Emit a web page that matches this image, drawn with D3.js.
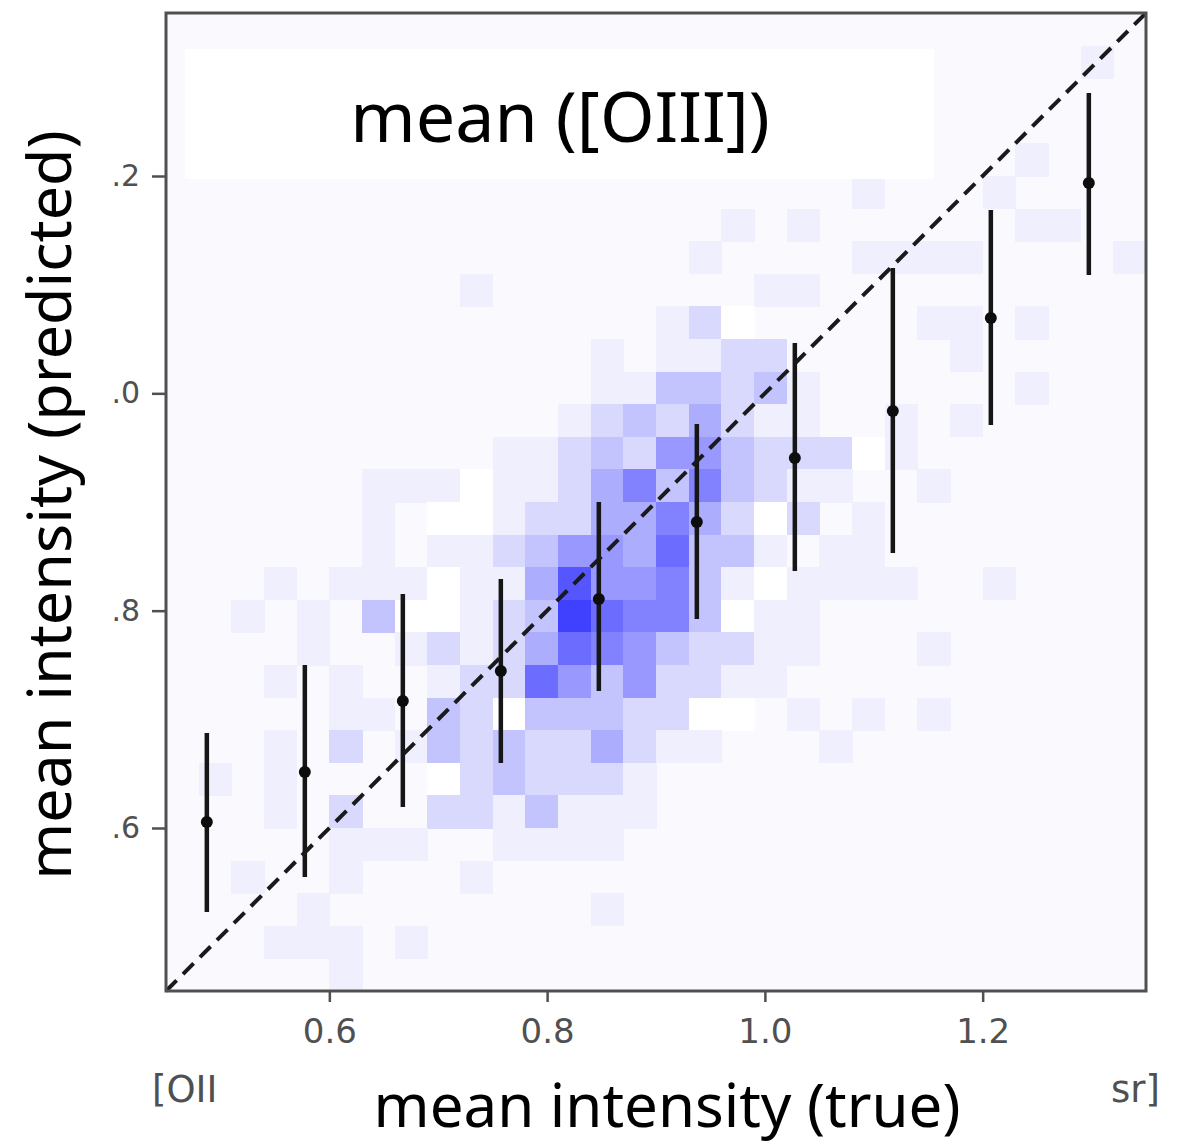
<!DOCTYPE html>
<html>
<head>
<meta charset="utf-8">
<script src="https://cdn.jsdelivr.net/npm/d3@7"></script>
<style>
  body { margin: 0; background: #fff; }
  svg { display: block; }
</style>
</head>
<body>
<div class="chart"></div>
<script>
const binSize = 0.03
const xDomain = [0.45, 1.35]
const yDomain = [0.45, 1.35]
const xTicks = [0.6, 0.8, 1.0, 1.2]
const yTicks = [0.6, 0.8, 1.0, 1.2]

// 2d histogram, one string per row from the top (y = 1.35) down,
// one char per bin from x = 0.45 ; '0' empty, 'w' white, 1..9 darker blue
const density = [
    "0000000000 0000000000 0000000000",
    "0000000000 0000000000 0000000010",
    "0000000000 0000000000 0000000000",
    "0000000000 0000000000 0000000000",
    "0000000000 0000000000 0000001000",
    "0000000000 0000000000 0100010000",
    "0000000000 0000000101 0000001100",
    "0000000000 0000001000 0111100001",
    "0000000001 0000000011 0000000000",
    "0000000000 0000012w00 0001101000",
    "0000000000 0001011220 0000100000",
    "0000000000 0001133231 0000001000",
    "0000000000 0012324211 0010100000",
    "0000000000 1123255322 2w10000000",
    "000000111w 1124636321 1001000000",
    "00000010ww 12244642w2 0100000000",
    "0000001011 2355473310 1100000000",
    "00010111w1 14855631w1 1110010000",
    "0010103ww1 2397663w11 0000000000",
    "0000100121 2476532211 0001000000",
    "0001010012 2753522110 0000000000",
    "0000011032 w33322ww01 0101000000",
    "0001020132 3224211000 1000000000",
    "01010000w2 3222100000 0000000000",
    "0001020022 1311100000 0000000000",
    "0000011100 1111000000 0000000000",
    "0010010001 0000000000 0000000000",
    "0000100000 0001000000 0000000000",
    "0001110100 0000000000 0000000000",
    "0000010000 0000000000 0000000000"
]

// binned means of the prediction with their spread
const binTrue = [0.4875, 0.5775, 0.6675, 0.7575, 0.8475, 0.9375, 1.0275, 1.1175, 1.2075, 1.2975]
const meanPred = [0.6055, 0.6515, 0.7169, 0.7445, 0.8107, 0.8816, 0.9405, 0.9837, 1.0693, 1.1935]
const predLow = [0.5227, 0.5549, 0.6193, 0.6598, 0.7260, 0.7923, 0.8365, 0.8530, 0.9708, 1.1089]
const predHigh = [0.6874, 0.7500, 0.8153, 0.8291, 0.9000, 0.9718, 1.0463, 1.1153, 1.1687, 1.2764]

const W = 1187, H = 1145
const pLeft = 166, pRight = 1146, pTop = 13, pBottom = 991

let svg = d3.select('.chart')
    .append('svg')
    .attr('width', W)
    .attr('height', H)

svg.append('rect')
    .attr('width', W)
    .attr('height', H)
    .attr('fill', '#fff')

let x = d3.scaleLinear().domain(xDomain).range([pLeft, pRight])
let y = d3.scaleLinear().domain(yDomain).range([pBottom, pTop])

let shade = d3.scaleLinear()
    .domain([0, 1, 9])
    .range(['#f9f9fe', '#efeffd', '#4040ff'])

// plot background
svg.append('rect')
    .attr('x', pLeft)
    .attr('y', pTop)
    .attr('width', pRight - pLeft)
    .attr('height', pBottom - pTop)
    .attr('fill', shade(0))

// histogram cells
let cells = []
density.forEach((row, j) => {
    row.replace(/ /g, '').split('').forEach((c, i) => {
        if (c === '0') return
        cells.push({
            x0: xDomain[0] + i * binSize,
            y1: yDomain[1] - j * binSize,
            c: c
        })
    })
})

svg.append('g')
    .attr('shape-rendering', 'crispEdges')
    .selectAll('rect')
    .data(cells)
    .join('rect')
    .attr('x', d => x(d.x0))
    .attr('y', d => y(d.y1))
    .attr('width', d => x(d.x0 + binSize) - x(d.x0) + 0.5)
    .attr('height', d => y(d.y1 - binSize) - y(d.y1) + 0.5)
    .attr('fill', d => d.c === 'w' ? '#ffffff' : shade(+d.c))

// error bars
let bars = svg.append('g')
bars.selectAll('line')
    .data(binTrue)
    .join('line')
    .attr('x1', d => x(d))
    .attr('x2', d => x(d))
    .attr('y1', (d, i) => y(predLow[i]))
    .attr('y2', (d, i) => y(predHigh[i]))
    .attr('stroke', '#161616')
    .attr('stroke-width', 4.5)
bars.selectAll('circle')
    .data(binTrue)
    .join('circle')
    .attr('cx', d => x(d))
    .attr('cy', (d, i) => y(meanPred[i]))
    .attr('r', 6)
    .attr('fill', '#0d0d0d')

// one to one line
svg.append('line')
    .attr('x1', x(xDomain[0]))
    .attr('y1', y(yDomain[0]))
    .attr('x2', x(xDomain[1]))
    .attr('y2', y(yDomain[1]))
    .attr('stroke', '#1a1a1a')
    .attr('stroke-width', 4)
    .attr('stroke-dasharray', '15,9')

// title box
svg.append('rect')
    .attr('x', 185)
    .attr('y', 49)
    .attr('width', 749)
    .attr('height', 130)
    .attr('fill', '#fff')

svg.append('text')
    .attr('x', 560)
    .attr('y', 142)
    .attr('text-anchor', 'middle')
    .style('font-family', '"Noto Sans", sans-serif')
    .style('font-size', '70px')
    .attr('fill', '#000')
    .text('mean ([OIII])')

// frame
svg.append('rect')
    .attr('x', pLeft)
    .attr('y', pTop)
    .attr('width', pRight - pLeft)
    .attr('height', pBottom - pTop)
    .attr('fill', 'none')
    .attr('stroke', '#505050')
    .attr('stroke-width', 3)

// axes
let xAxis = svg.append('g')
    .attr('transform', `translate(0,${pBottom})`)
    .call(d3.axisBottom(x).tickValues(xTicks).tickSize(11).tickPadding(17)
        .tickFormat(d3.format('.1f')))
let yAxis = svg.append('g')
    .attr('transform', `translate(${pLeft},0)`)
    .call(d3.axisLeft(y).tickValues(yTicks).tickSize(14).tickPadding(12)
        .tickFormat(d => d3.format('.1f')(d).slice(1)))

for (let a of [xAxis, yAxis]) {
    a.select('.domain').remove()
    a.selectAll('.tick line').attr('stroke', '#505050').attr('stroke-width', 2.5)
    a.selectAll('.tick text')
        .attr('fill', '#505050')
        .style('font-family', '"DejaVu Sans", sans-serif')
}
xAxis.selectAll('.tick text').style('font-size', '34px')
yAxis.selectAll('.tick text').style('font-size', '30px')

// leftovers of the original axis label
svg.append('text')
    .attr('x', 152)
    .attr('y', 1102)
    .attr('fill', '#505050')
    .style('font-family', '"DejaVu Sans", sans-serif')
    .style('font-size', '37px')
    .text('[OII')
svg.append('text')
    .attr('x', 1160)
    .attr('y', 1102)
    .attr('text-anchor', 'end')
    .attr('fill', '#505050')
    .style('font-family', '"DejaVu Sans", sans-serif')
    .style('font-size', '37px')
    .text('sr]')

// axis titles
svg.append('text')
    .attr('x', 667)
    .attr('y', 1127)
    .attr('text-anchor', 'middle')
    .style('font-family', '"Noto Sans", sans-serif')
    .style('font-size', '60px')
    .attr('fill', '#000')
    .text('mean intensity (true)')

svg.append('text')
    .attr('transform', 'translate(71,505) rotate(-90)')
    .attr('text-anchor', 'middle')
    .style('font-family', '"Noto Sans", sans-serif')
    .style('font-size', '61px')
    .attr('fill', '#000')
    .text('mean intensity (predicted)')
</script>
</body>
</html>
